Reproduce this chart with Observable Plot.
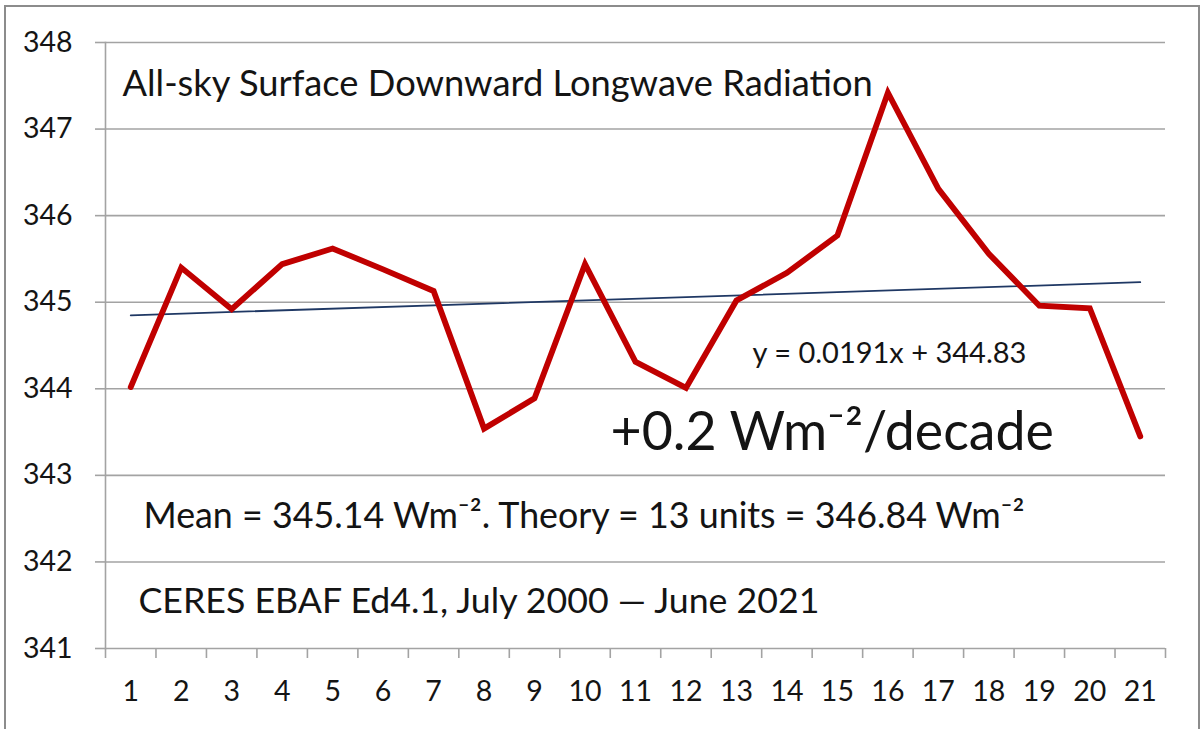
<!DOCTYPE html>
<html><head><meta charset="utf-8">
<script src="https://cdn.jsdelivr.net/npm/d3@7"></script>
<script src="https://cdn.jsdelivr.net/npm/@observablehq/plot@0.6"></script>
<style>
body{margin:0;background:#fff;}
#wrap{position:relative;width:1202px;height:729px;overflow:hidden;background:#fff;}
#wrap svg{position:absolute;left:0;top:0;}
#border{position:absolute;left:4px;top:5px;width:1196px;height:740px;border:2.5px solid #8c8c8c;box-sizing:border-box;pointer-events:none;}
</style></head><body><div id="wrap"><div id="border"></div></div>
<script>
const categories = [1,2,3,4,5,6,7,8,9,10,11,12,13,14,15,16,17,18,19,20,21];
const values = [344.02, 345.40, 344.92, 345.44, 345.62, 345.38, 345.13, 343.54, 343.89, 345.44, 344.31, 344.01, 345.02, 345.34, 345.77, 347.42, 346.31, 345.56, 344.96, 344.93, 343.45];
const yTicks = [341, 342, 343, 344, 345, 346, 347, 348];
const trendSlope = 0.0191;
const trendIntercept = 344.83;
const titleText = "All-sky Surface Downward Longwave Radiation";
const equationText = "y = 0.0191x + 344.83";
const rateText = "+0.2 Wm\u207B\u00B2/decade";
const meanText = "Mean = 345.14 Wm\u207B\u00B2. Theory = 13 units = 346.84 Wm\u207B\u00B2";
const sourceText = "CERES EBAF Ed4.1, July 2000 \u2014 June 2021";

const series = categories.map((c, i) => ({x: c, y: values[i]}));
const trend = [categories[0], categories[categories.length - 1]].map(x => ({x, y: trendSlope * x + trendIntercept}));
const boundaries = categories.map(c => c - 0.5).concat([categories[categories.length - 1] + 0.5]);

const grid = "#a3a3a3";
const ink = "#141414";

const chart = Plot.plot({
  width: 1202,
  height: 729,
  marginLeft: 105,
  marginRight: 37,
  marginTop: 42,
  marginBottom: 81,
  style: {fontFamily: "Lato, sans-serif", fontSize: "28.5px", background: "transparent", color: ink},
  x: {type: "linear", domain: [0.5, 21.5]},
  y: {domain: [341, 348]},
  marks: [
    Plot.ruleY(yTicks, {stroke: grid, strokeWidth: 1.6}),
    Plot.frame({anchor: "left", stroke: grid, strokeWidth: 1.6}),
    Plot.axisY({ticks: yTicks, tickSize: 10, tickPadding: 23, stroke: grid, strokeWidth: 1.6, fill: ink, tickFormat: d => String(d), label: null}),
    Plot.axisX({ticks: boundaries, tickSize: 10, tickFormat: () => "", stroke: grid, strokeWidth: 1.6, label: null}),
    Plot.axisX({ticks: categories, tickSize: 0, tickPadding: 32, fill: ink, tickFormat: d => String(d), label: null}),
    Plot.line(trend, {x: "x", y: "y", stroke: "#1f3864", strokeWidth: 1.8}),
    Plot.line(series, {x: "x", y: "y", stroke: "#c00000", strokeWidth: 5.8, strokeLinejoin: "miter", strokeMiterlimit: 4}),
    Plot.text([titleText], {frameAnchor: "top-left", dx: 17, dy: 53, textAnchor: "start", lineAnchor: "bottom", fontSize: 36.3, fill: ink}),
    Plot.text([equationText], {frameAnchor: "top-left", dx: 647, dy: 320, textAnchor: "start", lineAnchor: "bottom", fontSize: 29, fill: ink}),
    Plot.text([rateText], {frameAnchor: "top-left", dx: 505, dy: 407, textAnchor: "start", lineAnchor: "bottom", fontSize: 53.7, fill: ink}),
    Plot.text([meanText], {frameAnchor: "top-left", dx: 38, dy: 485, textAnchor: "start", lineAnchor: "bottom", fontSize: 35.8, fill: ink}),
    Plot.text([sourceText], {frameAnchor: "top-left", dx: 33, dy: 570, textAnchor: "start", lineAnchor: "bottom", fontSize: 35.7, fill: ink})
  ]
});
document.getElementById("wrap").insertBefore(chart, document.getElementById("border"));
</script>
</body></html>
